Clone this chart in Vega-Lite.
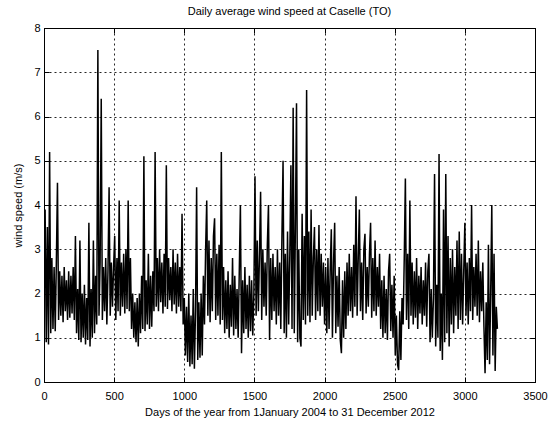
{
  "$schema": "https://vega.github.io/schema/vega-lite/v6.json",
  "width": 491,
  "height": 354,
  "autosize": {"type": "none"},
  "padding": {"left": 44, "top": 28, "right": 15, "bottom": 41},
  "background": "white",
  "title": {"text": "Daily average wind speed at Caselle (TO)", "font": "Liberation Sans", "fontSize": 11, "fontWeight": "normal", "color": "black", "offset": 5},
  "config": {
    "view": {"stroke": "black", "strokeWidth": 1},
    "axis": {"labelFont": "Liberation Sans", "labelFontSize": 11, "labelColor": "black", "titleFont": "Liberation Sans", "titleFontSize": 11, "titleFontWeight": "normal", "titleColor": "black", "domainColor": "black", "tickColor": "black", "gridColor": "black", "gridDash": [2, 3], "gridOpacity": 0.85, "gridWidth": 1}
  },
  "data": {"values": [
{"day":0,"ws":1.8},{"day":8,"ws":3.9},{"day":16,"ws":0.9},{"day":24,"ws":3.5},{"day":32,"ws":0.85},{"day":40,"ws":5.2},{"day":48,"ws":1.1},{"day":56,"ws":2.8},{"day":64,"ws":1.2},{"day":72,"ws":2.6},
{"day":80,"ws":1.15},{"day":88,"ws":2.7},{"day":96,"ws":4.5},{"day":104,"ws":1.4},{"day":112,"ws":2.5},{"day":120,"ws":1.5},{"day":128,"ws":2.4},{"day":136,"ws":1.35},{"day":144,"ws":2.6},{"day":152,"ws":1.6},
{"day":160,"ws":2.3},{"day":168,"ws":1.4},{"day":176,"ws":2.5},{"day":184,"ws":1.45},{"day":192,"ws":2.4},{"day":200,"ws":1.55},{"day":208,"ws":2.6},{"day":216,"ws":1.4},{"day":224,"ws":3.3},{"day":232,"ws":1.1},
{"day":240,"ws":2.1},{"day":248,"ws":0.95},{"day":256,"ws":3.2},{"day":264,"ws":0.9},{"day":272,"ws":2.0},{"day":280,"ws":1.0},{"day":288,"ws":2.2},{"day":296,"ws":0.85},{"day":304,"ws":1.9},{"day":312,"ws":0.95},
{"day":320,"ws":3.6},{"day":328,"ws":0.8},{"day":336,"ws":2.1},{"day":344,"ws":1.0},{"day":352,"ws":3.2},{"day":360,"ws":1.1},{"day":368,"ws":2.4},{"day":376,"ws":1.3},{"day":384,"ws":7.5},{"day":392,"ws":1.5},
{"day":400,"ws":2.7},{"day":408,"ws":6.4},{"day":416,"ws":1.4},{"day":424,"ws":2.6},{"day":432,"ws":1.6},{"day":440,"ws":2.8},{"day":448,"ws":1.3},{"day":456,"ws":2.5},{"day":464,"ws":4.4},{"day":472,"ws":1.5},
{"day":480,"ws":2.7},{"day":488,"ws":1.7},{"day":496,"ws":2.6},{"day":504,"ws":3.3},{"day":512,"ws":1.4},{"day":520,"ws":2.8},{"day":528,"ws":1.6},{"day":536,"ws":4.1},{"day":544,"ws":1.5},{"day":552,"ws":2.7},
{"day":560,"ws":1.7},{"day":568,"ws":2.9},{"day":576,"ws":1.55},{"day":584,"ws":3.0},{"day":592,"ws":1.65},{"day":600,"ws":4.1},{"day":608,"ws":1.6},{"day":616,"ws":2.8},{"day":624,"ws":1.2},{"day":632,"ws":2.0},
{"day":640,"ws":1.0},{"day":648,"ws":1.8},{"day":656,"ws":0.9},{"day":664,"ws":1.9},{"day":672,"ws":0.8},{"day":680,"ws":2.0},{"day":688,"ws":1.1},{"day":696,"ws":2.4},{"day":704,"ws":1.2},{"day":712,"ws":5.1},
{"day":720,"ws":1.15},{"day":728,"ws":2.3},{"day":736,"ws":1.3},{"day":744,"ws":2.9},{"day":752,"ws":1.2},{"day":760,"ws":2.4},{"day":768,"ws":1.25},{"day":776,"ws":2.5},{"day":784,"ws":1.6},{"day":792,"ws":5.2},
{"day":800,"ws":1.7},{"day":808,"ws":2.8},{"day":816,"ws":1.6},{"day":824,"ws":3.0},{"day":832,"ws":1.8},{"day":840,"ws":2.7},{"day":848,"ws":1.55},{"day":856,"ws":2.9},{"day":864,"ws":1.7},{"day":872,"ws":4.9},
{"day":880,"ws":1.65},{"day":888,"ws":2.8},{"day":896,"ws":1.85},{"day":904,"ws":2.6},{"day":912,"ws":1.6},{"day":920,"ws":3.0},{"day":928,"ws":1.75},{"day":936,"ws":2.7},{"day":944,"ws":1.55},{"day":952,"ws":2.9},
{"day":960,"ws":1.7},{"day":968,"ws":2.6},{"day":976,"ws":1.6},{"day":984,"ws":3.8},{"day":992,"ws":1.3},{"day":1000,"ws":1.9},{"day":1008,"ws":0.6},{"day":1016,"ws":1.7},{"day":1024,"ws":0.45},{"day":1032,"ws":2.0},
{"day":1040,"ws":0.35},{"day":1048,"ws":1.5},{"day":1056,"ws":0.4},{"day":1064,"ws":2.1},{"day":1072,"ws":0.3},{"day":1080,"ws":1.6},{"day":1088,"ws":4.4},{"day":1096,"ws":0.5},{"day":1104,"ws":1.8},{"day":1112,"ws":0.55},
{"day":1120,"ws":2.0},{"day":1128,"ws":0.6},{"day":1136,"ws":2.4},{"day":1144,"ws":1.3},{"day":1152,"ws":3.0},{"day":1160,"ws":4.1},{"day":1168,"ws":1.5},{"day":1176,"ws":3.2},{"day":1184,"ws":1.35},{"day":1192,"ws":2.8},
{"day":1200,"ws":1.6},{"day":1208,"ws":3.3},{"day":1216,"ws":3.7},{"day":1224,"ws":1.4},{"day":1232,"ws":2.9},{"day":1240,"ws":1.5},{"day":1248,"ws":3.1},{"day":1256,"ws":1.3},{"day":1264,"ws":5.2},{"day":1272,"ws":1.4},
{"day":1280,"ws":2.6},{"day":1288,"ws":1.1},{"day":1296,"ws":2.3},{"day":1304,"ws":1.2},{"day":1312,"ws":2.5},{"day":1320,"ws":1.0},{"day":1328,"ws":2.2},{"day":1336,"ws":1.25},{"day":1344,"ws":2.8},{"day":1352,"ws":1.05},
{"day":1360,"ws":2.4},{"day":1368,"ws":1.2},{"day":1376,"ws":2.1},{"day":1384,"ws":1.0},{"day":1392,"ws":2.5},{"day":1400,"ws":4.0},{"day":1408,"ws":0.65},{"day":1416,"ws":2.3},{"day":1424,"ws":1.1},{"day":1432,"ws":2.6},
{"day":1440,"ws":1.2},{"day":1448,"ws":2.2},{"day":1456,"ws":1.0},{"day":1464,"ws":2.4},{"day":1472,"ws":1.15},{"day":1480,"ws":2.3},{"day":1488,"ws":1.05},{"day":1496,"ws":2.0},{"day":1504,"ws":4.65},{"day":1512,"ws":1.5},
{"day":1520,"ws":3.2},{"day":1528,"ws":1.6},{"day":1536,"ws":2.9},{"day":1544,"ws":4.3},{"day":1552,"ws":1.4},{"day":1560,"ws":3.0},{"day":1568,"ws":1.7},{"day":1576,"ws":2.7},{"day":1584,"ws":1.5},{"day":1592,"ws":3.1},
{"day":1600,"ws":4.0},{"day":1608,"ws":0.95},{"day":1616,"ws":2.8},{"day":1624,"ws":1.4},{"day":1632,"ws":2.9},{"day":1640,"ws":1.6},{"day":1648,"ws":2.6},{"day":1656,"ws":1.3},{"day":1664,"ws":3.0},{"day":1672,"ws":1.5},
{"day":1680,"ws":2.7},{"day":1688,"ws":1.2},{"day":1696,"ws":3.3},{"day":1704,"ws":5.0},{"day":1712,"ws":1.1},{"day":1720,"ws":2.9},{"day":1728,"ws":1.0},{"day":1736,"ws":3.4},{"day":1744,"ws":1.3},{"day":1752,"ws":2.8},
{"day":1760,"ws":4.9},{"day":1768,"ws":1.2},{"day":1776,"ws":6.2},{"day":1784,"ws":1.1},{"day":1792,"ws":3.5},{"day":1800,"ws":6.3},{"day":1808,"ws":0.9},{"day":1816,"ws":3.0},{"day":1824,"ws":1.0},{"day":1832,"ws":0.8},
{"day":1840,"ws":3.8},{"day":1848,"ws":1.4},{"day":1856,"ws":3.3},{"day":1864,"ws":1.3},{"day":1872,"ws":6.6},{"day":1880,"ws":1.5},{"day":1888,"ws":3.4},{"day":1896,"ws":1.35},{"day":1904,"ws":3.9},{"day":1912,"ws":1.5},
{"day":1920,"ws":2.8},{"day":1928,"ws":3.5},{"day":1936,"ws":1.4},{"day":1944,"ws":3.0},{"day":1952,"ws":1.6},{"day":1960,"ws":3.55},{"day":1968,"ws":1.5},{"day":1976,"ws":2.9},{"day":1984,"ws":1.7},{"day":1992,"ws":2.7},
{"day":2000,"ws":1.3},{"day":2008,"ws":2.6},{"day":2016,"ws":1.1},{"day":2024,"ws":2.8},{"day":2032,"ws":1.2},{"day":2040,"ws":2.5},{"day":2048,"ws":3.45},{"day":2056,"ws":1.0},{"day":2064,"ws":2.7},{"day":2072,"ws":3.6},
{"day":2080,"ws":1.1},{"day":2088,"ws":2.4},{"day":2096,"ws":1.25},{"day":2104,"ws":2.6},{"day":2112,"ws":0.95},{"day":2120,"ws":0.65},{"day":2128,"ws":2.3},{"day":2136,"ws":1.0},{"day":2144,"ws":2.5},{"day":2152,"ws":1.2},
{"day":2160,"ws":2.7},{"day":2168,"ws":1.5},{"day":2176,"ws":2.9},{"day":2184,"ws":1.6},{"day":2192,"ws":2.6},{"day":2200,"ws":1.45},{"day":2208,"ws":3.1},{"day":2216,"ws":1.7},{"day":2224,"ws":4.2},{"day":2232,"ws":1.5},
{"day":2240,"ws":2.8},{"day":2248,"ws":3.9},{"day":2256,"ws":1.6},{"day":2264,"ws":2.7},{"day":2272,"ws":1.4},{"day":2280,"ws":3.0},{"day":2288,"ws":3.35},{"day":2296,"ws":1.55},{"day":2304,"ws":2.6},{"day":2312,"ws":1.7},
{"day":2320,"ws":2.9},{"day":2328,"ws":3.6},{"day":2336,"ws":1.45},{"day":2344,"ws":2.8},{"day":2352,"ws":1.6},{"day":2360,"ws":3.2},{"day":2368,"ws":1.5},{"day":2376,"ws":2.6},{"day":2384,"ws":1.7},{"day":2392,"ws":2.9},
{"day":2400,"ws":1.2},{"day":2408,"ws":2.3},{"day":2416,"ws":1.0},{"day":2424,"ws":2.4},{"day":2432,"ws":1.1},{"day":2440,"ws":2.1},{"day":2448,"ws":0.95},{"day":2456,"ws":2.5},{"day":2464,"ws":2.9},{"day":2472,"ws":1.15},
{"day":2480,"ws":2.2},{"day":2488,"ws":1.0},{"day":2496,"ws":2.4},{"day":2504,"ws":0.6},{"day":2512,"ws":1.5},{"day":2520,"ws":0.4},{"day":2528,"ws":0.27},{"day":2536,"ws":1.6},{"day":2544,"ws":0.5},{"day":2552,"ws":1.9},
{"day":2560,"ws":1.3},{"day":2568,"ws":2.8},{"day":2576,"ws":4.6},{"day":2584,"ws":1.4},{"day":2592,"ws":2.9},{"day":2600,"ws":1.2},{"day":2608,"ws":4.1},{"day":2616,"ws":1.5},{"day":2624,"ws":2.7},{"day":2632,"ws":1.3},
{"day":2640,"ws":2.5},{"day":2648,"ws":1.45},{"day":2656,"ws":2.8},{"day":2664,"ws":1.2},{"day":2672,"ws":2.4},{"day":2680,"ws":1.55},{"day":2688,"ws":2.6},{"day":2696,"ws":1.3},{"day":2704,"ws":2.3},{"day":2712,"ws":1.5},
{"day":2720,"ws":2.7},{"day":2728,"ws":1.25},{"day":2736,"ws":2.5},{"day":2744,"ws":2.9},{"day":2752,"ws":0.9},{"day":2760,"ws":2.1},{"day":2768,"ws":1.0},{"day":2776,"ws":1.9},{"day":2784,"ws":4.7},{"day":2792,"ws":0.8},
{"day":2800,"ws":2.2},{"day":2808,"ws":1.0},{"day":2816,"ws":5.15},{"day":2824,"ws":0.7},{"day":2832,"ws":2.0},{"day":2840,"ws":0.5},{"day":2848,"ws":3.9},{"day":2856,"ws":0.9},{"day":2864,"ws":4.7},{"day":2872,"ws":1.1},
{"day":2880,"ws":3.3},{"day":2888,"ws":0.8},{"day":2896,"ws":2.8},{"day":2904,"ws":1.3},{"day":2912,"ws":3.0},{"day":2920,"ws":1.1},{"day":2928,"ws":2.6},{"day":2936,"ws":1.5},{"day":2944,"ws":3.2},{"day":2952,"ws":1.2},
{"day":2960,"ws":3.4},{"day":2968,"ws":1.4},{"day":2976,"ws":2.9},{"day":2984,"ws":1.3},{"day":2992,"ws":2.5},{"day":3000,"ws":3.6},{"day":3008,"ws":1.5},{"day":3016,"ws":2.7},{"day":3024,"ws":1.3},{"day":3032,"ws":2.8},
{"day":3040,"ws":1.6},{"day":3048,"ws":4.0},{"day":3056,"ws":1.4},{"day":3064,"ws":2.6},{"day":3072,"ws":1.7},{"day":3080,"ws":2.9},{"day":3088,"ws":1.5},{"day":3096,"ws":3.2},{"day":3104,"ws":1.35},{"day":3112,"ws":2.5},
{"day":3120,"ws":1.6},{"day":3128,"ws":2.7},{"day":3136,"ws":1.25},{"day":3144,"ws":0.2},{"day":3152,"ws":1.8},{"day":3160,"ws":0.5},{"day":3168,"ws":3.1},{"day":3176,"ws":0.4},{"day":3184,"ws":2.0},{"day":3192,"ws":4.0},
{"day":3200,"ws":0.6},{"day":3208,"ws":2.9},{"day":3216,"ws":0.25},{"day":3224,"ws":1.7},{"day":3232,"ws":1.2}
  ]},
  "layer": [
    {
      "mark": {"type": "line", "color": "black", "strokeWidth": 1.5, "clip": true},
      "encoding": {
        "x": {"field": "day", "type": "quantitative", "scale": {"domain": [0, 3500], "nice": false}, "axis": {"values": [0, 500, 1000, 1500, 2000, 2500, 3000, 3500], "format": "d", "tickSize": -5, "labelPadding": 13, "title": "Days of the year from 1January 2004 to 31 December 2012", "titlePadding": 5, "grid": true, "labelFlush": false}},
        "y": {"field": "ws", "type": "quantitative", "scale": {"domain": [0, 8], "nice": false}, "axis": {"values": [0, 1, 2, 3, 4, 5, 6, 7, 8], "format": "d", "tickSize": -5, "labelPadding": 9, "title": "wind speed (m/s)", "titlePadding": 10, "grid": true, "labelFlush": false}}
      }
    },
    {
      "mark": {"type": "point", "opacity": 0},
      "encoding": {
        "x": {"field": "day", "type": "quantitative", "axis": {"orient": "top", "values": [0, 500, 1000, 1500, 2000, 2500, 3000, 3500], "tickSize": -5, "labels": false, "title": null, "grid": false, "domain": false}},
        "y": {"field": "ws", "type": "quantitative", "axis": {"orient": "right", "values": [0, 1, 2, 3, 4, 5, 6, 7, 8], "tickSize": -5, "labels": false, "title": null, "grid": false, "domain": false}}
      }
    }
  ],
  "resolve": {"axis": {"x": "independent", "y": "independent"}}
}
